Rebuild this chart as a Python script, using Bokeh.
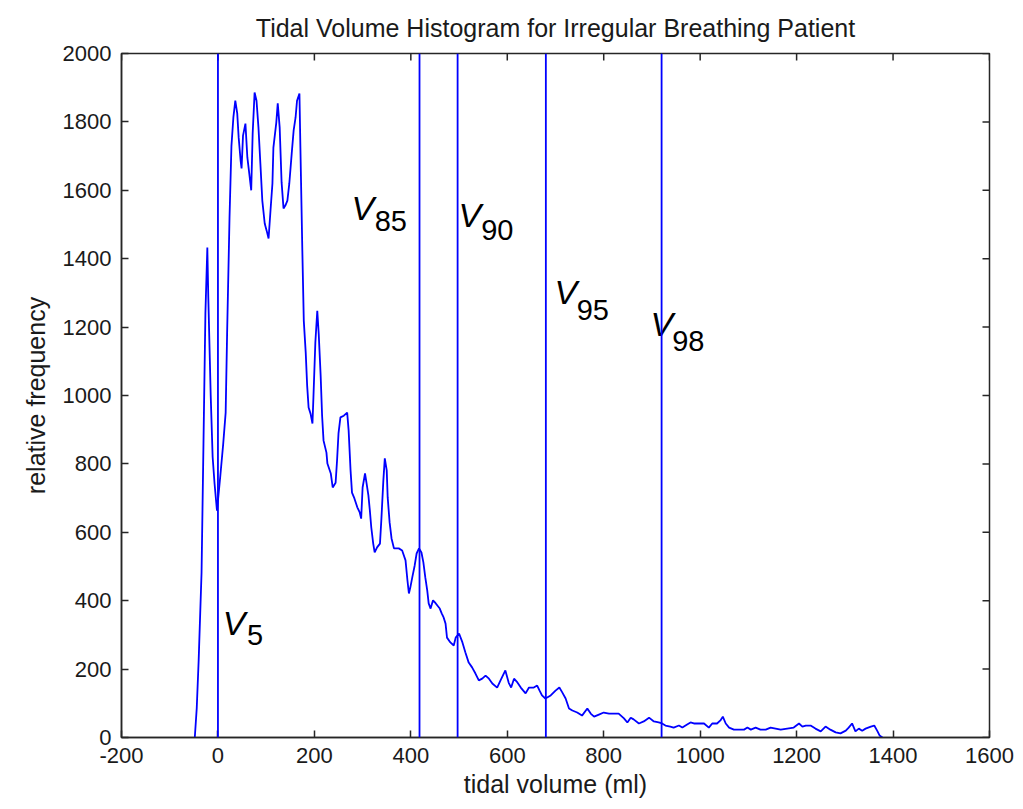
from bokeh.plotting import figure
from bokeh.models import Range1d, FixedTicker, Span
from bokeh.core.properties import value
from bokeh.embed import file_html
from bokeh.resources import INLINE

# histogram curve (tidal volume in ml, relative frequency)
volume = [-48, -44, -40, -34, -30, -26, -22, -20, -15, -11, -7, -2, 5, 11, 16, 19, 24, 28, 32, 36,
          40, 43, 47, 49, 52, 57, 61, 65, 69, 72, 76, 80, 84, 88, 92, 97, 101, 105, 109, 113,
          115, 121, 124, 128, 132, 136, 140, 144, 148, 153, 157, 161, 164, 169, 171, 175, 178, 182, 185, 188,
          192, 196, 198, 202, 206, 209, 213, 216, 219, 225, 227, 234, 238, 244, 247, 250, 254, 261, 268, 271,
          275, 278, 283, 289, 294, 297, 300, 305, 308, 312, 315, 318, 322, 325, 330, 336, 339, 343, 346, 350,
          352, 356, 360, 365, 375, 382, 389, 393, 396, 399, 403, 408, 412, 417, 422, 426, 430, 434, 437, 441,
          446, 450, 455, 460, 464, 468, 472, 475, 482, 489, 493, 500, 507, 513, 520, 527, 534, 541, 548, 555,
          562, 569, 579, 586, 596, 603, 608, 614, 621, 628, 638, 645, 655, 662, 667, 672, 679, 690, 700, 708,
          714, 721, 728, 735, 745, 755, 766, 773, 780, 790, 800, 811, 831, 842, 849, 856, 862, 873, 883, 894,
          904, 914, 921, 928, 938, 945, 956, 963, 973, 980, 987, 997, 1008, 1018, 1025, 1035, 1042, 1047, 1053, 1060,
          1070, 1091, 1098, 1105, 1115, 1125, 1136, 1146, 1167, 1194, 1205, 1212, 1219, 1229, 1239, 1250, 1260, 1270, 1281, 1291,
          1302, 1308, 1315, 1322, 1329, 1336, 1343, 1354, 1361, 1367, 1372, 1378]
frequency = [0, 85, 225, 482, 860, 1240, 1433, 1287, 1000, 820, 742, 663, 766, 860, 950, 1180, 1520, 1730, 1813, 1862,
             1825, 1754, 1687, 1664, 1760, 1795, 1696, 1649, 1600, 1766, 1886, 1862, 1784, 1678, 1570, 1503, 1482, 1459, 1541, 1620,
             1725, 1798, 1854, 1784, 1623, 1547, 1556, 1570, 1620, 1708, 1775, 1813, 1862, 1883, 1725, 1424, 1219, 1126, 1029, 965,
             947, 918, 994, 1155, 1248, 1180, 1058, 941, 868, 833, 801, 772, 731, 745, 810, 889, 936, 941, 950, 898,
             781, 716, 699, 673, 658, 640, 731, 772, 745, 708, 664, 614, 567, 541, 556, 567, 640, 751, 816, 781,
             702, 629, 582, 553, 553, 547, 518, 459, 421, 439, 468, 503, 538, 553, 541, 512, 468, 430, 392, 377,
             401, 395, 386, 377, 363, 351, 333, 292, 278, 269, 292, 304, 278, 249, 219, 205, 187, 167, 172, 181,
             172, 158, 146, 167, 196, 160, 146, 172, 161, 146, 129, 146, 146, 152, 137, 123, 114, 123, 137, 146,
             132, 114, 85, 79, 73, 64, 85, 70, 61, 67, 73, 70, 70, 56, 44, 58, 53, 41, 47, 58,
             47, 44, 41, 35, 32, 29, 35, 29, 38, 44, 41, 41, 41, 29, 41, 41, 50, 61, 41, 29,
             23, 23, 29, 23, 29, 23, 23, 29, 23, 29, 41, 32, 35, 35, 26, 18, 32, 23, 15, 12,
             20, 29, 41, 18, 26, 20, 26, 32, 35, 20, 6, 0]

# percentile volumes
pct_names = ["5", "85", "90", "95", "98"]
pct_volumes = [0, 418, 497, 680, 920]

# label anchors (data coords) for "V" and subscript
v_x = [10, 277, 499, 698, 897]
v_y = [336, 1547, 1529, 1304, 1208]
sub_x = [60, 325, 546, 744, 942]
sub_y = [301, 1509, 1485, 1251, 1158]

x_ticks = list(range(-200, 1601, 200))
y_ticks = list(range(0, 2001, 200))

X_MIN, X_MAX = -200, 1600
Y_MIN, Y_MAX = 0, 2000
FRAME_W, FRAME_H = 868, 684
TICK_PX = 7

FONT = "Liberation Sans"
AXIS_COLOR = "#262626"

p = figure(width=1023, height=809, output_backend="svg", toolbar_location=None,
           x_range=Range1d(X_MIN, X_MAX), y_range=Range1d(Y_MIN, Y_MAX),
           title="Tidal Volume Histogram for Irregular Breathing Patient",
           x_axis_label="tidal volume (ml)", y_axis_label="relative frequency")
p.min_border_left = 121
p.min_border_right = 1023 - 121 - FRAME_W
p.min_border_top = 53
p.min_border_bottom = 809 - 53 - FRAME_H
p.background_fill_color = "white"
p.border_fill_color = "white"
p.grid.visible = False
p.outline_line_color = AXIS_COLOR
p.outline_line_width = 1.5

p.title.text_font = FONT
p.title.text_font_size = "25px"
p.title.text_font_style = "normal"
p.title.align = "center"
p.title.text_color = "#1a1a1a"
p.title.vertical_align = "top"
p.title.text_line_height = 0.7
p.title.standoff = 19

p.xaxis.ticker = FixedTicker(ticks=x_ticks)
p.xaxis.major_label_overrides = {t: str(t) for t in x_ticks}
p.yaxis.ticker = FixedTicker(ticks=y_ticks)

for ax in p.axis:
    ax.major_tick_in = TICK_PX
    ax.major_tick_out = 0
    ax.minor_tick_in = 0
    ax.minor_tick_out = 0
    ax.axis_line_color = AXIS_COLOR
    ax.axis_line_width = 1.5
    ax.major_tick_line_color = AXIS_COLOR
    ax.major_tick_line_width = 1.5
    ax.major_label_text_font = FONT
    ax.major_label_text_font_size = "22px"
    ax.major_label_text_color = "#1a1a1a"
    ax.axis_label_text_font = FONT
    ax.axis_label_text_font_size = "25px"
    ax.axis_label_text_font_style = "normal"
    ax.axis_label_text_color = "#1a1a1a"
    ax.major_label_standoff = 10

p.xaxis.axis_label_standoff = 4
p.yaxis.axis_label_standoff = 10

# inward ticks on the top and right edges (box style)
dy = TICK_PX * (Y_MAX - Y_MIN) / FRAME_H
dx = TICK_PX * (X_MAX - X_MIN) / FRAME_W
p.segment(x0=x_ticks, y0=[Y_MAX] * len(x_ticks), x1=x_ticks, y1=[Y_MAX - dy] * len(x_ticks),
          line_color=AXIS_COLOR, line_width=1.5)
p.segment(x0=[X_MAX] * len(y_ticks), y0=y_ticks, x1=[X_MAX - dx] * len(y_ticks), y1=y_ticks,
          line_color=AXIS_COLOR, line_width=1.5)

p.line(volume, frequency, line_color="#0000ff", line_width=1.8)

for v in pct_volumes:
    p.add_layout(Span(location=v, dimension="height", line_color="#0000ff", line_width=1.8))

p.text(x=v_x, y=v_y, text=["V"] * len(v_x), text_font=value(FONT), text_font_size="34px",
       text_font_style="italic", text_color="black", text_align="left", text_baseline="alphabetic")
p.text(x=sub_x, y=sub_y, text=pct_names, text_font=value(FONT), text_font_size="29px",
       text_color="black", text_align="left", text_baseline="alphabetic")

open("out.html", "w").write(file_html(p, INLINE))
